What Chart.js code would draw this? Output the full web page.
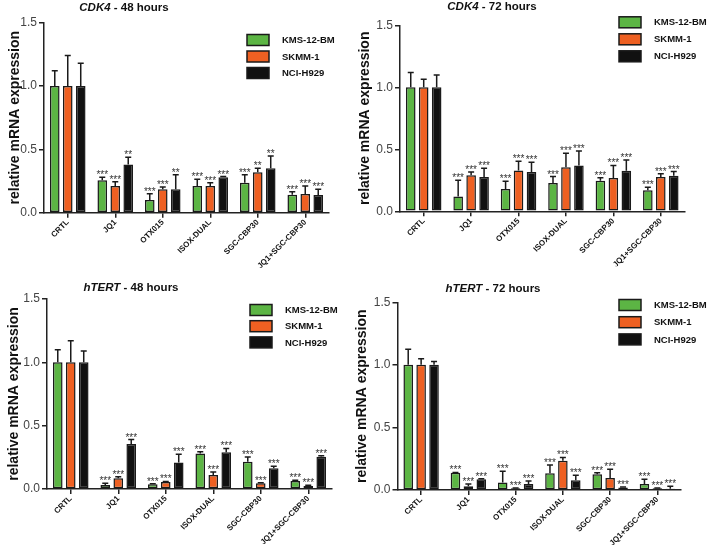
<!DOCTYPE html>
<html>
<head>
<meta charset="utf-8">
<script src="https://cdn.jsdelivr.net/npm/chart.js@4.4.1/dist/chart.umd.min.js"></script>
<style>
  body { margin: 0; background: #fff; }
  canvas { position: absolute; }
</style>
</head>
<body>
<canvas id="c1"></canvas>
<canvas id="c2"></canvas>
<canvas id="c3"></canvas>
<canvas id="c4"></canvas>
<script>
// shared labels
const categories = ['CRTL', 'JQ1', 'OTX015', 'ISOX-DUAL', 'SGC-CBP30', 'JQ1+SGC-CBP30'];
const cellLines = ['KMS-12-BM', 'SKMM-1', 'NCI-H929'];
const yTicks = [0, 0.5, 1.0, 1.5];

// CDK4 - 48 hours
const cdk4_48_kms = [1, 0.256, 0.10, 0.21, 0.237, 0.142];
const cdk4_48_kms_sd = [0.12, 0.024, 0.05, 0.053, 0.063, 0.024];
const cdk4_48_skmm = [1, 0.21, 0.185, 0.21, 0.32, 0.148];
const cdk4_48_skmm_sd = [0.24, 0.035, 0.018, 0.027, 0.03, 0.062];
const cdk4_48_nci = [1, 0.38, 0.185, 0.28, 0.35, 0.14];
const cdk4_48_nci_sd = [0.18, 0.057, 0.115, 0.005, 0.097, 0.045];
const cdk4_48_stars = [
  ['', '***', '***', '***', '***', '***'],
  ['', '***', '***', '***', '**', '***'],
  ['', '**', '**', '***', '**', '***']
];

// CDK4 - 72 hours
const cdk4_72_kms = [1, 0.12, 0.18, 0.228, 0.247, 0.169];
const cdk4_72_kms_sd = [0.12, 0.13, 0.062, 0.052, 0.024, 0.025];
const cdk4_72_skmm = [1, 0.29, 0.33, 0.355, 0.268, 0.277];
const cdk4_72_skmm_sd = [0.064, 0.027, 0.073, 0.113, 0.102, 0.026];
const cdk4_72_nci = [1, 0.277, 0.317, 0.37, 0.327, 0.287];
const cdk4_72_nci_sd = [0.10, 0.07, 0.078, 0.116, 0.087, 0.033];
const cdk4_72_stars = [
  ['', '***', '***', '***', '***', '***'],
  ['', '***', '***', '***', '***', '***'],
  ['', '***', '***', '***', '***', '***']
];

// hTERT - 48 hours
const htert_48_kms = [1, 0.032, 0.037, 0.28, 0.216, 0.063];
const htert_48_kms_sd = [0.10, 0.013, 0.005, 0.015, 0.037, 0.007];
const htert_48_skmm = [1, 0.084, 0.055, 0.11, 0.045, 0.024];
const htert_48_skmm_sd = [0.17, 0.013, 0.005, 0.024, 0.005, 0.006];
const htert_48_nci = [1, 0.355, 0.21, 0.29, 0.163, 0.255];
const htert_48_nci_sd = [0.09, 0.035, 0.064, 0.03, 0.017, 0.008];
const htert_48_stars = cdk4_72_stars;

// hTERT - 72 hours
const htert_72_kms = [1, 0.138, 0.06, 0.133, 0.125, 0.048];
const htert_72_kms_sd = [0.125, 0.002, 0.09, 0.067, 0.013, 0.037];
const htert_72_skmm = [1, 0.03, 0.013, 0.234, 0.096, 0.013];
const htert_72_skmm_sd = [0.048, 0.018, 0.003, 0.026, 0.069, 0.003];
const htert_72_nci = [1, 0.085, 0.048, 0.077, 0.02, 0.01];
const htert_72_nci_sd = [0.027, 0.005, 0.024, 0.04, 0.003, 0.02];
const htert_72_stars = cdk4_72_stars;

const colors = ['#5cb544', '#ee6022', '#111111'];
const FONT = "'Liberation Sans', Arial, sans-serif";

const panels = [
  { id: 'c1', gene: 'CDK4', time: ' - 48 hours',
    values: [cdk4_48_kms, cdk4_48_skmm, cdk4_48_nci],
    sd: [cdk4_48_kms_sd, cdk4_48_skmm_sd, cdk4_48_nci_sd], stars: cdk4_48_stars,
    box: { x: 0, y: 0, w: 350, h: 290 }, area: { l: 44, t: 22.6, r: 329, b: 212.7 },
    title: [124, 8], yTitleX: 15, legend: [247, 40, 16.5] },
  { id: 'c2', gene: 'CDK4', time: ' - 72 hours',
    values: [cdk4_72_kms, cdk4_72_skmm, cdk4_72_nci],
    sd: [cdk4_72_kms_sd, cdk4_72_skmm_sd, cdk4_72_nci_sd], stars: cdk4_72_stars,
    box: { x: 350, y: 0, w: 359, h: 290 }, area: { l: 400, t: 25.3, r: 684.5, b: 211.3 },
    title: [492, 7], yTitleX: 15, legend: [619, 22.3, 17] },
  { id: 'c3', gene: 'hTERT', time: ' - 48 hours',
    values: [htert_48_kms, htert_48_skmm, htert_48_nci],
    sd: [htert_48_kms_sd, htert_48_skmm_sd, htert_48_nci_sd], stars: htert_48_stars,
    box: { x: 0, y: 276, w: 350, h: 276 }, area: { l: 47, t: 299, r: 332, b: 489 },
    title: [131, 288], yTitleX: 14, legend: [250, 310, 16.2] },
  { id: 'c4', gene: 'hTERT', time: ' - 72 hours',
    values: [htert_72_kms, htert_72_skmm, htert_72_nci],
    sd: [htert_72_kms_sd, htert_72_skmm_sd, htert_72_nci_sd], stars: htert_72_stars,
    box: { x: 350, y: 276, w: 359, h: 276 }, area: { l: 397.5, t: 302.3, r: 681, b: 490 },
    title: [493, 289], yTitleX: 12.5, legend: [619, 305, 17.2] }
];

function makeExtras(p) {
  return {
    id: 'extras',
    afterDatasetsDraw(chart) {
      const ctx = chart.ctx, y = chart.scales.y;
      chart.data.datasets.forEach((ds, i) => {
        chart.getDatasetMeta(i).data.forEach((bar, j) => {
          const top = y.getPixelForValue(ds.data[j]);
          const cap = y.getPixelForValue(ds.data[j] + p.sd[i][j]);
          ctx.save();
          ctx.strokeStyle = '#1a1a1a';
          ctx.lineWidth = 1.5;
          ctx.beginPath();
          ctx.moveTo(bar.x, top);
          ctx.lineTo(bar.x, cap);
          ctx.moveTo(bar.x - 3, cap);
          ctx.lineTo(bar.x + 3, cap);
          ctx.stroke();
          const s = p.stars[i][j];
          if (s) {
            ctx.fillStyle = '#333';
            ctx.font = '10px ' + FONT;
            ctx.textAlign = 'center';
            ctx.textBaseline = 'alphabetic';
            ctx.fillText(s, bar.x, cap + 1);
          }
          ctx.restore();
        });
      });
    },
    afterDraw(chart) {
      const ctx = chart.ctx;
      const ox = p.box.x, oy = p.box.y;
      ctx.save();
      // title, gene name in italics
      const f1 = 'italic bold 11.5px ' + FONT, f2 = 'bold 11.5px ' + FONT;
      ctx.font = f1; const w1 = ctx.measureText(p.gene).width;
      ctx.font = f2; const w2 = ctx.measureText(p.time).width;
      let tx = p.title[0] - ox - (w1 + w2) / 2;
      const ty = p.title[1] - oy;
      ctx.fillStyle = '#111';
      ctx.textBaseline = 'middle';
      ctx.textAlign = 'left';
      ctx.font = f1; ctx.fillText(p.gene, tx, ty);
      ctx.font = f2; ctx.fillText(p.time, tx + w1, ty);
      // legend
      const [lx, ly, step] = p.legend;
      chart.data.datasets.forEach((ds, i) => {
        const bx = lx - ox, by = ly - oy + i * step;
        ctx.fillStyle = ds.backgroundColor;
        ctx.fillRect(bx, by - 5.5, 22, 11);
        ctx.strokeStyle = '#1a1a1a';
        ctx.lineWidth = 1.5;
        ctx.strokeRect(bx, by - 5.5, 22, 11);
        ctx.fillStyle = '#111';
        ctx.font = 'bold 9.5px ' + FONT;
        ctx.fillText(ds.label, bx + 35, by + 0.5);
      });
      ctx.restore();
    }
  };
}

panels.forEach(p => {
  const el = document.getElementById(p.id);
  el.width = p.box.w; el.height = p.box.h;
  el.style.left = p.box.x + 'px'; el.style.top = p.box.y + 'px';
  el.style.width = p.box.w + 'px'; el.style.height = p.box.h + 'px';
  const xHeight = 55;
  const padBottom = p.box.y + p.box.h - p.area.b - xHeight;

  new Chart(el.getContext('2d'), {
    type: 'bar',
    data: {
      labels: categories,
      datasets: cellLines.map((name, i) => ({
        label: name,
        data: p.values[i],
        backgroundColor: colors[i],
        borderColor: '#1a1a1a',
        borderWidth: 1.5,
        borderSkipped: false,
        categoryPercentage: 0.82,
        barPercentage: 0.74
      }))
    },
    options: {
      responsive: false,
      animation: false,
      layout: {
        padding: {
          left: 0,
          top: p.area.t - p.box.y,
          right: p.box.x + p.box.w - p.area.r,
          bottom: padBottom
        }
      },
      plugins: {
        legend: { display: false },
        tooltip: { enabled: false },
        title: { display: false }
      },
      scales: {
        x: {
          offset: true,
          grid: { display: true, offset: false, drawOnChartArea: false, drawTicks: true,
                  tickLength: 5, color: '#222', lineWidth: 1.5 },
          border: { display: true, color: '#222', width: 1.5 },
          ticks: { autoSkip: false, minRotation: 45, maxRotation: 45, padding: 0,
                   color: '#111', font: { family: FONT, size: 8, weight: 'bold' } },
          afterFit(s) { s.height = xHeight; s.paddingLeft = 0; s.paddingRight = 0; }
        },
        y: {
          min: 0, max: 1.5,
          afterBuildTicks(s) { s.ticks = yTicks.map(v => ({ value: v })); },
          grid: { display: true, drawOnChartArea: false, drawTicks: true,
                  tickLength: 5, color: '#222', lineWidth: 1.5 },
          border: { display: true, color: '#222', width: 1.5 },
          ticks: { padding: 2, color: '#444', font: { family: FONT, size: 12 },
                   callback: v => Number(v).toFixed(1) },
          title: { display: true, text: 'relative mRNA expression', color: '#111',
                   font: { family: FONT, size: 14, weight: 'bold' },
                   padding: { top: p.yTitleX - 8.4, bottom: 0 } },
          afterFit(s) { s.width = p.area.l - p.box.x; }
        }
      }
    },
    plugins: [makeExtras(p)]
  });
});
</script>
</body>
</html>
